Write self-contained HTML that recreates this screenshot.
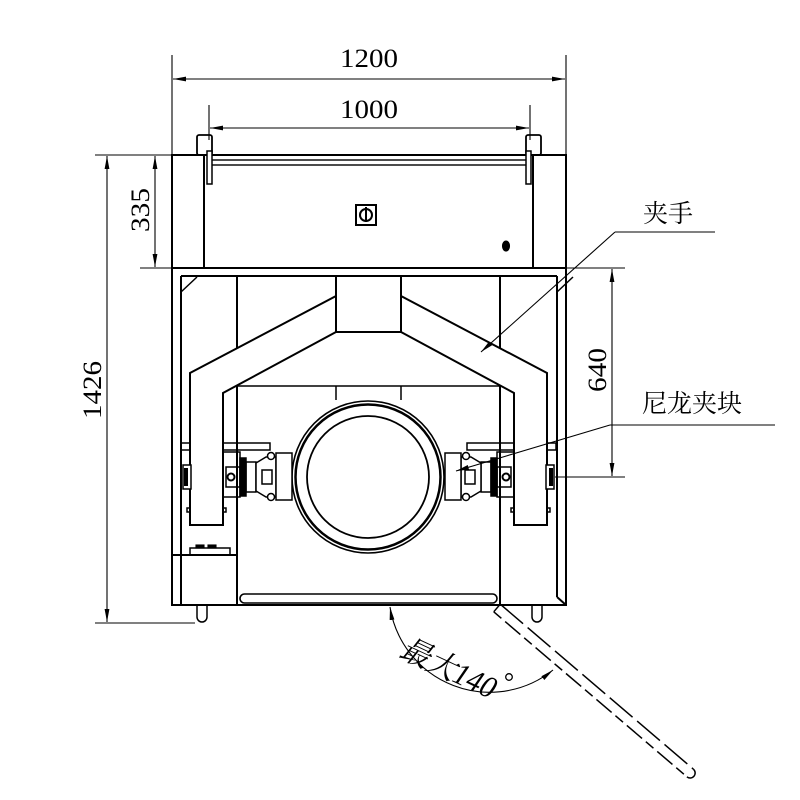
<!DOCTYPE html>
<html><head><meta charset="utf-8"><style>html,body{margin:0;padding:0;background:#fff}svg{display:block}</style></head>
<body>
<svg width="800" height="800" viewBox="0 0 800 800" xmlns="http://www.w3.org/2000/svg">
<defs>
<marker id="ar" markerWidth="13" markerHeight="6" refX="13" refY="3" orient="auto" markerUnits="userSpaceOnUse"><path d="M0,0.6 L13,3 L0,5.4z" fill="#000"/></marker>
<marker id="as" markerWidth="13" markerHeight="6" refX="0" refY="3" orient="auto" markerUnits="userSpaceOnUse"><path d="M13,0.6 L0,3 L13,5.4z" fill="#000"/></marker>
</defs>
<g fill="none" stroke="#000" stroke-width="1.1">
<line x1="172" y1="55" x2="172" y2="155"/><line x1="566" y1="55" x2="566" y2="155"/>
<line x1="173" y1="79" x2="565" y2="79" marker-start="url(#as)" marker-end="url(#ar)"/>
<line x1="209" y1="105" x2="209" y2="140"/><line x1="530" y1="105" x2="530" y2="140"/>
<line x1="210" y1="128" x2="529" y2="128" marker-start="url(#as)" marker-end="url(#ar)"/>
<line x1="140" y1="155" x2="172" y2="155"/><line x1="140" y1="268" x2="172" y2="268"/>
<line x1="155" y1="156" x2="155" y2="267" marker-start="url(#as)" marker-end="url(#ar)"/>
<line x1="95" y1="155" x2="140" y2="155"/><line x1="95" y1="623" x2="195" y2="623"/>
<line x1="107" y1="156" x2="107" y2="622" marker-start="url(#as)" marker-end="url(#ar)"/>
<line x1="566" y1="268" x2="625" y2="268"/><line x1="555" y1="477" x2="625" y2="477"/>
<line x1="612" y1="269" x2="612" y2="476" marker-start="url(#as)" marker-end="url(#ar)"/>
<g stroke-width="2">
<rect x="172" y="155" width="394" height="113"/>
<line x1="204" y1="155" x2="204" y2="268"/><line x1="533" y1="155" x2="533" y2="268"/>
</g>
<rect x="210" y="160" width="318" height="5" stroke-width="1.4"/>
<rect x="197" y="135" width="15" height="20" rx="2" stroke-width="1.8"/><rect x="526" y="135" width="15" height="20" rx="2" stroke-width="1.8"/>
<rect x="207" y="151" width="5" height="33" stroke-width="1.5" fill="#fff"/><rect x="526" y="151" width="5" height="33" stroke-width="1.5" fill="#fff"/>
<rect x="356" y="205" width="20" height="20" stroke-width="2"/>
<circle cx="366" cy="215" r="6" stroke-width="2"/><line x1="366" y1="207" x2="366" y2="222" stroke-width="2"/>
<ellipse cx="506" cy="246" rx="3.5" ry="5" fill="#000"/>
<g stroke-width="2">
<rect x="172" y="268" width="394" height="337"/>
<line x1="181" y1="276" x2="181" y2="555"/><line x1="557" y1="276" x2="557" y2="597"/>
<line x1="181" y1="276" x2="557" y2="276"/>
<line x1="557" y1="597" x2="566" y2="605"/>
<line x1="237" y1="276" x2="237" y2="605"/><line x1="500" y1="276" x2="500" y2="605"/>
</g>
<line x1="181" y1="292" x2="197" y2="277" stroke-width="1.5"/><line x1="557" y1="292" x2="573" y2="277" stroke-width="1.5"/>
<line x1="237" y1="386" x2="500" y2="386" stroke-width="1.5"/>
<line x1="336" y1="386" x2="336" y2="400" stroke-width="1.5"/><line x1="401" y1="386" x2="401" y2="400" stroke-width="1.5"/>
<g stroke-width="2" fill="#fff">
<path d="M336,276 L401,276 L401,296 L547,373 L547,525 L514,525 L514,393 L401,332 L336,332 L223,393 L223,525 L190,525 L190,373 L336,296 Z"/>
<line x1="336" y1="296" x2="336" y2="332"/><line x1="401" y1="296" x2="401" y2="332"/>
</g>
<circle cx="368" cy="477" r="76" stroke-width="1.6" fill="#fff"/>
<circle cx="368" cy="477" r="72.5" stroke-width="2.5"/>
<circle cx="368" cy="477" r="61" stroke-width="1.8"/>
<g id="cl" stroke-width="1.5">
<rect x="181" y="443" width="9" height="7"/><rect x="223" y="443" width="47" height="7"/>
<rect x="183" y="465" width="8" height="24" fill="#fff"/>
<rect x="184" y="468" width="4" height="18" fill="#000" stroke="none"/>
<rect x="223" y="452" width="17" height="45"/>
<rect x="226" y="467" width="14" height="20"/>
<circle cx="231" cy="477" r="3.5" stroke-width="2"/>
<rect x="240" y="458" width="6" height="38" fill="#000"/>
<rect x="246" y="462" width="10" height="30"/>
<path d="M256,463 L266,457 L276,457 L276,497 L266,497 L256,491 Z" fill="#fff"/>
<rect x="262" y="470" width="10" height="14"/>
<circle cx="271" cy="456" r="3.5" fill="#fff"/><circle cx="271" cy="497" r="3.5" fill="#fff"/>
<rect x="276" y="453" width="16" height="47" fill="#fff"/>
<rect x="187" y="508" width="3" height="4"/><rect x="223" y="508" width="3" height="4"/>
</g>
<use href="#cl" transform="translate(737,0) scale(-1,1)"/>
<g stroke-width="2">
<rect x="172" y="555" width="65" height="50"/>
<line x1="181" y1="555" x2="181" y2="605"/>
</g>
<rect x="190" y="548" width="40" height="7" stroke-width="1.5"/>
<rect x="196" y="545" width="8" height="3" fill="#000"/><rect x="208" y="545" width="8" height="3" fill="#000"/>
<rect x="240" y="594" width="257" height="9" rx="4.5" stroke-width="1.6"/>
<path d="M197,606 L197,617 A5,5 0 0 0 207,617 L207,606" stroke-width="1.5"/>
<path d="M532,606 L532,617 A5,5 0 0 0 542,617 L542,606" stroke-width="1.5"/>
<g transform="translate(497,608) rotate(40.5)" stroke-width="1.5">
<line x1="0" y1="-5" x2="254" y2="-5" stroke-dasharray="30,6"/>
<line x1="0" y1="5" x2="254" y2="5" stroke-dasharray="10,5,20,5"/>
<line x1="0" y1="-5" x2="0" y2="5"/>
<path d="M254,-5 A5,5 0 0 1 254,5"/>
</g>
<path d="M390,607 A101,101 0 0 0 553,670" marker-start="url(#as)" marker-end="url(#ar)"/>
<line x1="615" y1="232" x2="715" y2="232"/>
<line x1="615" y1="232" x2="481" y2="352" marker-end="url(#ar)"/>
<line x1="610" y1="425" x2="775" y2="425"/>
<line x1="610" y1="425" x2="456" y2="471" marker-end="url(#ar)"/>
</g>
<g font-family="'Liberation Serif','Noto Serif CJK SC',serif" font-size="26" fill="#000">
<text x="340" y="67" textLength="58" lengthAdjust="spacingAndGlyphs">1200</text>
<text x="340" y="118" textLength="58" lengthAdjust="spacingAndGlyphs">1000</text>
<text transform="translate(149,232) rotate(-90)" textLength="44" lengthAdjust="spacingAndGlyphs">335</text>
<text transform="translate(101,419) rotate(-90)" textLength="58" lengthAdjust="spacingAndGlyphs">1426</text>
<text transform="translate(606,392) rotate(-90)" textLength="44" lengthAdjust="spacingAndGlyphs">640</text>
<text x="668" y="222" text-anchor="middle" font-family="'Noto Serif CJK SC','Noto Sans CJK SC',serif" font-size="25">夹手</text>
<text x="692" y="412" text-anchor="middle" font-family="'Noto Serif CJK SC','Noto Sans CJK SC',serif" font-size="25">尼龙夹块</text>
<text transform="translate(398,656) rotate(25)" font-style="italic" font-size="31" textLength="102" lengthAdjust="spacingAndGlyphs">最大140</text>
<circle cx="509" cy="677" r="3.3" fill="none" stroke="#000" stroke-width="1.3"/>
</g>
</svg>
</body></html>
